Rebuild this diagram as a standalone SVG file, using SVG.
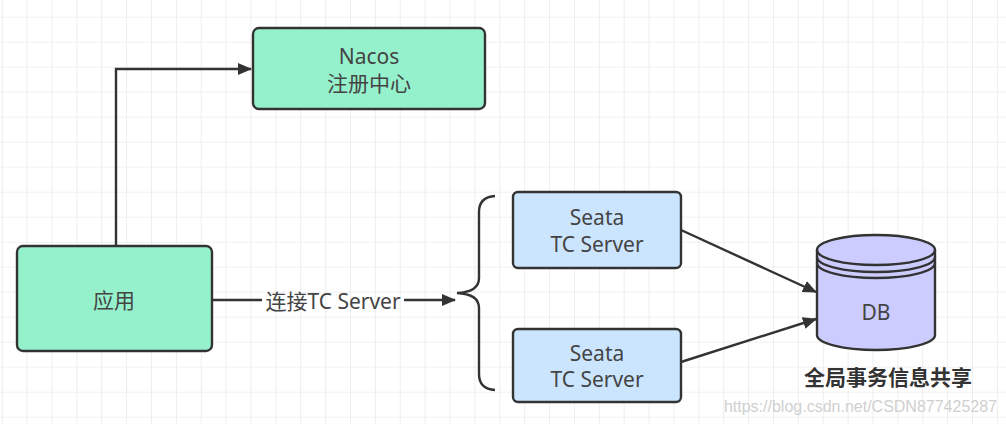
<svg xmlns="http://www.w3.org/2000/svg" width="1006" height="424" viewBox="0 0 1006 424">
<defs>
<pattern id="grid" x="1.7" y="16.7" width="24.88" height="25" patternUnits="userSpaceOnUse">
<path d="M0 0H24.88M0 0V25" fill="none" stroke="#e3e3e3" stroke-width="1.2"/>
</pattern>
<marker id="arr" viewBox="0 0 14 12" refX="13" refY="6" markerWidth="14" markerHeight="12" markerUnits="userSpaceOnUse" orient="auto">
<path d="M0 0L14 6L0 12Z" fill="#333"/>
</marker>
</defs>
<style>
.box{stroke:#333;stroke-width:2.4}
.green{fill:#95f1cb}
.blue{fill:#cce5ff}
.db{fill:#ccccff;stroke:#333;stroke-width:2.4}
.t{font-family:"Noto Sans","Noto Sans CJK SC",sans-serif;font-size:21px;fill:#444;text-anchor:middle}
.edge{fill:none;stroke:#333;stroke-width:2.4}
</style>
<rect width="1006" height="424" fill="#fff"/>
<rect width="1006" height="424" fill="url(#grid)"/>
<g id="connectors">
<path class="edge" d="M116 246V69H251" marker-end="url(#arr)"/>
<path class="edge" d="M212 300H262"/>
<path class="edge" d="M404 300H455" marker-end="url(#arr)"/>
<path class="edge" d="M495 196Q479 197 479 212V278Q479 292 457 293Q479 294 479 308V374Q479 389 495 390"/>
<path class="edge" d="M681 230L816 292" marker-end="url(#arr)"/>
<path class="edge" d="M681 362L816 319" marker-end="url(#arr)"/>
<text class="t" x="333" y="309">连接TC Server</text>
</g>
<g id="nacos">
<rect class="box green" x="253" y="28" width="232" height="81" rx="6"/>
<text class="t" x="369" y="64">Nacos</text>
<text class="t" x="369" y="91">注册中心</text>
</g>
<g id="app">
<rect class="box green" x="17" y="246" width="195" height="105" rx="6"/>
<text class="t" x="114" y="308">应用</text>
</g>
<g id="seata1">
<rect class="box blue" x="513" y="192" width="168" height="76" rx="5"/>
<text class="t" x="597" y="225">Seata</text>
<text class="t" x="597" y="252">TC Server</text>
</g>
<g id="seata2">
<rect class="box blue" x="513" y="329" width="168" height="73" rx="5"/>
<text class="t" x="597" y="361">Seata</text>
<text class="t" x="597" y="387">TC Server</text>
</g>
<g id="db">
<path class="db" d="M817 250A59 15 0 0 1 935 250V335A59 15 0 0 1 817 335Z"/>
<path class="edge" d="M817 250A59 15 0 0 0 935 250M817 257A59 15 0 0 0 935 257M817 263A59 15 0 0 0 935 263"/>
<text class="t" x="876" y="320">DB</text>
<text class="t" x="888" y="385" style="font-weight:bold;fill:#333">全局事务信息共享</text>
</g>
<text x="997" y="412" style="font-family:'Liberation Sans',sans-serif;font-size:16px;fill:#d0d0d0;text-anchor:end">https://blog.csdn.net/CSDN877425287</text>
</svg>
